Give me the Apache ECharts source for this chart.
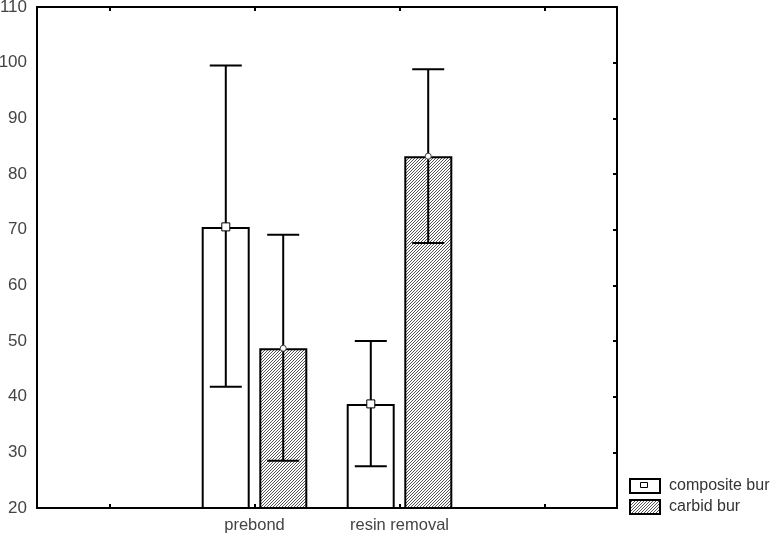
<!DOCTYPE html>
<html><head><meta charset="utf-8">
<script src="https://cdn.jsdelivr.net/npm/echarts@6/dist/echarts.min.js"></script>
<style>html,body{margin:0;padding:0;background:#fff}#c{width:772px;height:534px}</style>
</head><body><div id="c"></div>
<script>
const categories = ['', 'prebond', 'resin removal', ''];
const seriesNames = ['composite bur', 'carbid bur'];
const compositeMean = [null, 70.5, 38.7, null];
const compositeLow  = [null, 41.8, 27.5, null];
const compositeHigh = [null, 99.5, 50.0, null];
const carbidMean = [null, 48.7, 83.2, null];
const carbidLow  = [null, 28.5, 67.6, null];
const carbidHigh = [null, 69.1, 98.8, null];
const yTicks = [20, 110, 10];

const tile = document.createElement('canvas');
tile.width = 3; tile.height = 3;
const tc = tile.getContext('2d');
tc.fillStyle = '#ffffff'; tc.fillRect(0,0,3,3);
tc.fillStyle = '#555555';
tc.fillRect(2,0,1,1); tc.fillRect(1,1,1,1); tc.fillRect(0,2,1,1);
const hatch = {image: tile, repeat: 'repeat'};

function errData(low, high, mean){
  const out = [];
  for (let i = 0; i < categories.length; i++) {
    if (mean[i] != null) out.push([i, low[i], high[i], mean[i]]);
  }
  return out;
}

function makeErr(offsetSign, marker){
  return function(params, api){
    const x = api.value(0);
    const lo = api.coord([x, api.value(1)]);
    const hi = api.coord([x, api.value(2)]);
    const md = api.coord([x, api.value(3)]);
    const bw = api.size([1, 0])[0];
    const cx = lo[0] + offsetSign * bw * 0.198;
    const cap = 16;
    const st = {stroke: '#000', lineWidth: 2};
    const children = [
      {type: 'line', shape: {x1: cx, y1: hi[1], x2: cx, y2: lo[1]}, style: st},
      {type: 'line', shape: {x1: cx - cap, y1: hi[1], x2: cx + cap, y2: hi[1]}, style: st},
      {type: 'line', shape: {x1: cx - cap, y1: lo[1], x2: cx + cap, y2: lo[1]}, style: st}
    ];
    if (marker === 'rect') {
      children.push({type: 'rect', shape: {x: cx - 4, y: md[1] - 4, width: 8, height: 8}, style: {fill: '#fff', stroke: '#000', lineWidth: 1}});
    } else {
      children.push({type: 'circle', shape: {cx: cx, cy: md[1], r: 3}, style: {fill: '#fff', stroke: '#444', lineWidth: 1}});
    }
    return {type: 'group', children: children};
  };
}

const chart = echarts.init(document.getElementById('c'), null, {renderer: 'canvas'});
const FONT = 'Liberation Sans, Arial, sans-serif';
chart.setOption({
  animation: false,
  backgroundColor: '#fff',
  grid: {left: 37, right: 155, top: 7, bottom: 26, show: true, borderColor: '#000', borderWidth: 2, backgroundColor: 'transparent',
         containLabel: false, outerBoundsMode: 'none'},
  legend: {
    orient: 'vertical', left: 624, top: 473, itemGap: 5, itemWidth: 30, itemHeight: 14,
    textStyle: {color: '#333', fontFamily: FONT, fontSize: 16, padding: [0, 0, 0, 4]},
    data: [
      {name: seriesNames[0], icon: 'rect'},
      {name: seriesNames[1], icon: 'rect'}
    ]
  },
  xAxis: [
    {type: 'category', data: categories, boundaryGap: true,
     axisLine: {show: false}, axisTick: {show: true, inside: true, length: 4, alignWithLabel: true, lineStyle: {color: '#000', width: 2}},
     axisLabel: {color: '#444', fontFamily: FONT, fontSize: 16.5, margin: 9}, splitLine: {show: false}},
    {type: 'category', data: categories, position: 'top', boundaryGap: true,
     axisLine: {show: false}, axisTick: {show: true, inside: true, length: 4, alignWithLabel: true, lineStyle: {color: '#000', width: 2}},
     axisLabel: {show: false}, splitLine: {show: false}}
  ],
  yAxis: [
    {type: 'value', min: yTicks[0], max: yTicks[1], interval: yTicks[2],
     axisLine: {show: false}, axisTick: {show: false},
     axisLabel: {color: '#444', fontFamily: FONT, fontSize: 17, margin: 10}, splitLine: {show: false}},
    {type: 'value', position: 'right', min: yTicks[0], max: yTicks[1], interval: yTicks[2],
     axisLine: {show: false}, axisTick: {show: true, inside: true, length: 4, lineStyle: {color: '#000', width: 2}},
     axisLabel: {show: false}, splitLine: {show: false}}
  ],
  series: [
    {name: seriesNames[0], type: 'bar', data: compositeMean, barWidth: 48, barGap: '20%',
     itemStyle: {color: '#fff', borderColor: '#000', borderWidth: 2}},
    {name: seriesNames[1], type: 'bar', data: carbidMean, barWidth: 48, barGap: '20%',
     itemStyle: {color: hatch, borderColor: '#000', borderWidth: 2}},
    {type: 'custom', name: 'errComposite', renderItem: makeErr(-1, 'rect'), data: errData(compositeLow, compositeHigh, compositeMean),
     encode: {x: 0, y: [1, 2]}, z: 5},
    {type: 'custom', name: 'errCarbid', renderItem: makeErr(1, 'circle'), data: errData(carbidLow, carbidHigh, carbidMean),
     encode: {x: 0, y: [1, 2]}, z: 5}
  ],
  graphic: [
    {type: 'rect', id: 'legendMark', x: 640.5, y: 482.5, shape: {width: 7, height: 5}, style: {fill: '#fff', stroke: '#000', lineWidth: 1}, z: 100}
  ]
});
</script></body></html>
